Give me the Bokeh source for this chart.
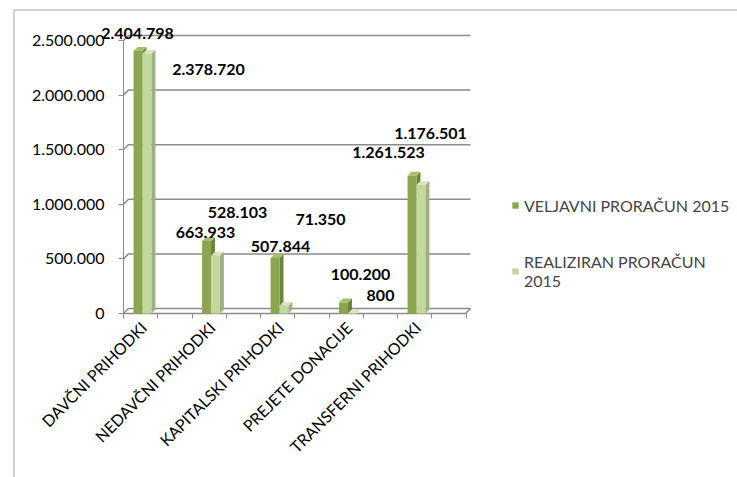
import math
from bokeh.plotting import figure
from bokeh.models import (FixedTicker, CustomJSTickFormatter, Legend, LegendItem, LabelSet,
                          ColumnDataSource)
from bokeh.core.properties import value
from bokeh.embed import file_html
from bokeh.resources import INLINE

# ---------------- data ----------------
categories = ["DAVČNI PRIHODKI", "NEDAVČNI PRIHODKI", "KAPITALSKI PRIHODKI",
              "PREJETE DONACIJE", "TRANSFERNI PRIHODKI"]
veljavni = [2404798, 663933, 507844, 100200, 1261523]
realiziran = [2378720, 528103, 71350, 800, 1176501]
series_names = ["VELJAVNI PRORAČUN 2015", "REALIZIRAN PRORAČUN\n2015"]
y_ticks = [0, 500000, 1000000, 1500000, 2000000, 2500000]

# ---------------- layout (pixels -> data units) ----------------
PX_X = 68.5                 # px per category
PX_Y = 273 / 2500000        # px per unit value
FRAME_LEFT, FRAME_TOP = 13, 9
FRAME_W, FRAME_H = 724, 468
AXIS_PX_X = 123             # px where the value axis sits
AXIS_PX_Y = 313             # px where the category axis sits
X0 = -0.292                 # data x of the value axis
X_START = X0 - (AXIS_PX_X - FRAME_LEFT) / PX_X
X_END = X_START + FRAME_W / PX_X
Y_END = (AXIS_PX_Y - FRAME_TOP) / PX_Y
Y_START = Y_END - FRAME_H / PX_Y
XR = 4.774                  # right end of back wall
DXW, DYW = 5 / PX_X, 5 / PX_Y   # wall depth
DXB, DYB = 4 / PX_X, 4 / PX_Y   # bar depth
BW = 0.13

# label pixel offsets (layout only)
dark_dx = [-0.5, -1, 5.5, 17, -23.5]
dark_dy = [-17.4, -8.5, -11.5, -28.1, -23.2]
light_dx = [61.6, 22.1, 36.6, 28.1, 9.6]
light_dy = [15.8, -43.3, -86.2, -17.9, -51.5]

FONT = "Lato"
GRID = "#8C8C8C"
BORDER = "#A6A6A6"

p = figure(frame_width=FRAME_W, frame_height=FRAME_H,
           x_range=(X_START, X_END), y_range=(Y_START, Y_END),
           output_backend="svg", toolbar_location=None,
           min_border_left=FRAME_LEFT, min_border_top=FRAME_TOP,
           min_border_right=0, min_border_bottom=0)
p.outline_line_color = None
p.xgrid.visible = False
p.ygrid.visible = False

# outer chart border (left and top edge of the chart area)
p.line([X_START, X_START, X_END], [Y_START, Y_END, Y_END],
       line_color=BORDER, line_width=2)

# walls / gridlines
gx = [[X0, X0 + DXW, XR] for t in y_ticks]
gy = [[t, t + DYW, t + DYW] for t in y_ticks]
p.multi_line(gx, gy, line_color=GRID, line_width=1.5)
p.line([X0, XR - DXW, XR], [0, 0, DYW], line_color=GRID, line_width=1.5)

idx = list(range(len(categories)))


def draw_bars(vals, off, front, side, top):
    lefts = [i + off for i in idx]
    rights = [l + BW for l in lefts]
    sx = [[r, r + DXB, r + DXB, r] for r in rights]
    sy = [[0, DYB, v + DYB, v] for v in vals]
    p.patches(sx, sy, fill_color=side, line_color=None)
    tx = [[l, l + DXB, r + DXB, r] for l, r in zip(lefts, rights)]
    ty = [[v, v + DYB, v + DYB, v] for v in vals]
    p.patches(tx, ty, fill_color=top, line_color=None)
    return p.quad(left=lefts, right=rights, bottom=[0] * len(vals), top=vals,
                  fill_color=front, line_color=None)


r_dark = draw_bars(veljavni, -0.145, "#8AA64F", "#6C8636", "#A5C06A")
r_light = draw_bars(realiziran, -0.015, "#C4D79C", "#9DB07F", "#D8E5BE")


def fmt(v):
    return f"{v:,}".replace(",", ".")


def add_labels(vals, off, dx, dy):
    src = ColumnDataSource(dict(x=[i + off + BW / 2 for i in idx], y=vals,
                                t=[fmt(v) for v in vals], dx=dx, dy=dy))
    ls = LabelSet(x="x", y="y", text="t", x_offset="dx", y_offset="dy", source=src,
                  text_font=value(FONT), text_font_style="bold", text_font_size="16px",
                  text_align="center", text_baseline="middle", text_color="black",
                  level="overlay")
    p.add_layout(ls)


# LabelSet y_offset is upward-positive
add_labels(veljavni, -0.145, dark_dx, [-d for d in dark_dy])
add_labels(realiziran, -0.015, light_dx, [-d for d in light_dy])

# y axis (drawn at the wall position inside the frame)
ya = p.yaxis[0]
ya.fixed_location = X0
ya.ticker = FixedTicker(ticks=y_ticks, minor_ticks=[])
ya.bounds = (0, 2500000)
ya.formatter = CustomJSTickFormatter(
    code="return Math.round(tick).toLocaleString('en-US').replace(/,/g, '.');")
ya.axis_line_color = GRID
ya.major_tick_line_color = GRID
ya.major_tick_out = 5
ya.major_tick_in = 0
ya.major_label_standoff = 14
ya.major_label_text_font = FONT
ya.major_label_text_font_size = "16px"
ya.major_label_text_color = "black"

# x axis (drawn along the front floor edge)
xa = p.xaxis[0]
xa.fixed_location = 0
xa.ticker = FixedTicker(ticks=idx, minor_ticks=[X0 + 0.5 * k for k in range(11)])
xa.major_label_overrides = {i: c for i, c in zip(idx, categories)}
xa.axis_line_color = None
xa.major_tick_line_color = None
xa.major_tick_out = 5
xa.major_tick_in = 0
xa.minor_tick_line_color = GRID
xa.minor_tick_out = 5
xa.minor_tick_in = 0
xa.major_label_orientation = math.pi / 4
xa.major_label_standoff = 6
xa.major_label_text_font = FONT
xa.major_label_text_font_size = "16px"
xa.major_label_text_color = "black"

legend = Legend(items=[LegendItem(label=series_names[0], renderers=[r_dark]),
                       LegendItem(label=series_names[1], renderers=[r_light])],
                location=(511 - FRAME_LEFT, FRAME_TOP + FRAME_H - 290))
legend.border_line_color = None
legend.background_fill_alpha = 0
legend.glyph_width = 8
legend.glyph_height = 8
legend.label_text_font = FONT
legend.label_text_font_size = "16px"
legend.label_standoff = 5
legend.label_height = 20
legend.padding = 0
legend.margin = 0
legend.spacing = 37
p.add_layout(legend)

open("out.html", "w").write(file_html(p, INLINE))
